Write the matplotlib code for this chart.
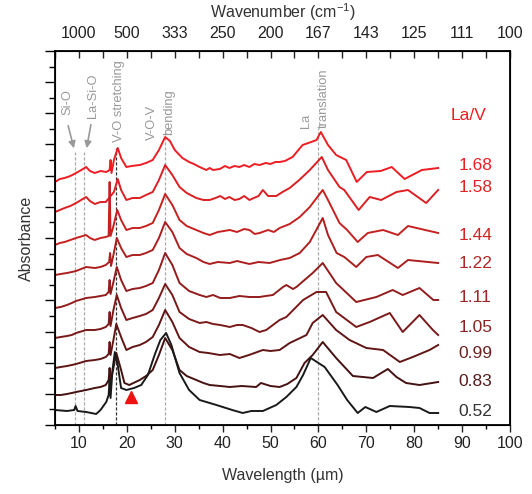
import matplotlib
matplotlib.use("Agg")
import matplotlib.pyplot as plt
import numpy as np

plt.rcParams['font.family'] = ['Liberation Sans', 'DejaVu Sans']
plt.rcParams['mathtext.default'] = 'regular'

# La/V ratio of each spectrum, top to bottom
ratios = ['1.68', '1.58', '1.44', '1.22', '1.11', '1.05', '0.99', '0.83', '0.52']

# stacked absorbance spectra (a.u., already offset), wavelength in um
x1 = [5.0, 6.0, 7.0, 8.2, 9.4, 10.5, 11.5, 12.3, 13.3, 14.5, 15.7, 16.4, 16.6, 16.8, 17.3, 18.1, 18.8, 19.9,
      21.0, 22.7, 24.0, 25.4, 26.7, 28.0, 29.0, 30.0, 31.6, 33.0, 34.0, 35.2, 36.6, 37.3, 38.0, 39.4, 40.5,
      41.4, 42.5, 43.5, 44.5, 45.6, 46.6, 47.7, 49.0, 50.0, 51.0, 51.9, 53.0, 54.6, 56.7, 58.5, 59.6, 60.5,
      62.0, 63.7, 65.8, 68.0, 70.1, 73.0, 75.3, 78.0, 81.6, 85.0]
y1 = [2.43, 2.46, 2.47, 2.49, 2.52, 2.55, 2.58, 2.54, 2.52, 2.54, 2.53, 2.55, 2.65, 2.52, 2.65, 2.77, 2.67, 2.58,
      2.59, 2.60, 2.62, 2.65, 2.75, 2.88, 2.84, 2.75, 2.67, 2.63, 2.61, 2.58, 2.55, 2.57, 2.55, 2.56, 2.59,
      2.57, 2.59, 2.58, 2.60, 2.58, 2.61, 2.60, 2.62, 2.61, 2.63, 2.63, 2.64, 2.68, 2.80, 2.83, 2.85, 2.93,
      2.80, 2.70, 2.65, 2.43, 2.53, 2.54, 2.58, 2.46, 2.55, 2.57]

x2 = [5.0, 6.0, 7.0, 8.2, 9.4, 11.5, 12.3, 13.3, 14.5, 15.6, 17.3, 18.1, 18.8, 19.9, 21.2, 22.7, 24.0, 25.4,
      26.7, 28.0, 29.5, 31.0, 32.5, 34.5, 36.0, 37.3, 38.5, 39.5, 40.5, 41.4, 42.5, 43.5, 44.5, 45.6, 46.5,
      47.5, 48.4, 49.5, 51.2, 52.5, 54.0, 56.0, 58.2, 60.7, 62.0, 64.4, 65.4, 68.4, 70.7, 73.1, 76.3, 78.7,
      82.5, 85.0]
y2 = [2.13, 2.15, 2.17, 2.19, 2.22, 2.28, 2.24, 2.21, 2.23, 2.23, 2.33, 2.46, 2.35, 2.25, 2.27, 2.27, 2.30, 2.33,
      2.45, 2.60, 2.50, 2.38, 2.32, 2.27, 2.25, 2.25, 2.27, 2.29, 2.26, 2.28, 2.25, 2.26, 2.29, 2.25, 2.27,
      2.29, 2.35, 2.29, 2.29, 2.33, 2.37, 2.45, 2.55, 2.68, 2.55, 2.38, 2.35, 2.15, 2.28, 2.25, 2.33, 2.35,
      2.22, 2.35]

x3 = [5.0, 6.0, 7.0, 8.2, 9.4, 11.5, 12.3, 13.3, 14.5, 15.6, 16.2, 16.4, 16.6, 17.1, 18.0, 18.8, 19.9, 21.2,
      22.7, 24.0, 25.4, 26.7, 28.0, 29.5, 31.0, 32.5, 34.5, 36.0, 37.3, 39.0, 41.5, 43.0, 44.5, 45.6, 46.7,
      47.7, 49.5, 50.7, 51.9, 54.0, 56.1, 58.2, 60.9, 62.0, 64.4, 66.0, 68.2, 70.3, 73.5, 76.6, 78.7, 85.0]
y3 = [1.80, 1.82, 1.83, 1.85, 1.87, 1.90, 1.87, 1.85, 1.87, 1.88, 1.89, 2.43, 1.89, 1.97, 2.15, 2.05, 1.95, 1.97,
      1.97, 1.99, 2.02, 2.15, 2.31, 2.20, 2.05, 1.99, 1.95, 1.92, 1.90, 1.93, 1.95, 1.93, 1.96, 1.95, 1.91,
      1.92, 1.95, 1.93, 1.97, 2.01, 2.08, 2.18, 2.35, 2.25, 2.02, 1.95, 1.83, 1.92, 1.95, 1.90, 1.99, 1.92]

x4 = [5.0, 6.2, 7.5, 8.5, 9.4, 11.5, 13.3, 14.5, 15.6, 16.3, 16.5, 16.7, 17.2, 17.9, 18.8, 19.9, 21.2, 22.7,
      24.0, 25.4, 26.7, 28.0, 29.5, 31.0, 32.5, 34.5, 36.0, 37.3, 39.0, 41.5, 43.0, 45.6, 47.5, 49.8, 52.0,
      54.0, 56.1, 58.2, 60.9, 62.0, 63.8, 65.4, 67.9, 70.0, 72.4, 76.6, 78.7, 85.0]
y4 = [1.50, 1.51, 1.52, 1.53, 1.54, 1.58, 1.57, 1.58, 1.60, 1.63, 1.72, 1.59, 1.70, 1.87, 1.77, 1.68, 1.70, 1.70,
      1.72, 1.75, 1.87, 2.03, 1.93, 1.77, 1.71, 1.67, 1.63, 1.61, 1.63, 1.62, 1.64, 1.61, 1.63, 1.62, 1.65,
      1.67, 1.72, 1.83, 2.07, 1.90, 1.72, 1.68, 1.58, 1.68, 1.70, 1.57, 1.65, 1.62]

x5 = [5.0, 6.2, 7.5, 8.5, 9.4, 11.5, 13.3, 14.5, 15.6, 16.2, 16.4, 16.6, 17.2, 17.9, 18.8, 19.9, 21.2, 22.7,
      24.0, 25.4, 26.7, 28.0, 29.5, 31.0, 33.0, 35.2, 36.6, 38.0, 39.5, 41.5, 43.5, 45.6, 47.7, 49.0, 50.5,
      52.6, 53.3, 54.7, 55.4, 58.8, 60.9, 63.7, 67.9, 72.1, 75.5, 77.6, 81.1, 84.0, 85.0]
y5 = [1.17, 1.18, 1.20, 1.22, 1.24, 1.27, 1.28, 1.29, 1.30, 1.33, 1.45, 1.31, 1.43, 1.58, 1.45, 1.34, 1.36, 1.37,
      1.39, 1.42, 1.55, 1.72, 1.60, 1.42, 1.34, 1.30, 1.28, 1.30, 1.27, 1.27, 1.29, 1.28, 1.28, 1.29, 1.30,
      1.38, 1.40, 1.36, 1.38, 1.52, 1.62, 1.42, 1.23, 1.28, 1.35, 1.30, 1.37, 1.25, 1.25]

x6 = [5.0, 6.2, 7.5, 8.5, 9.4, 11.5, 13.3, 14.5, 15.6, 16.2, 16.4, 16.6, 17.2, 17.9, 18.8, 19.9, 21.2, 22.7,
      24.0, 25.4, 26.7, 28.0, 29.5, 31.0, 33.0, 35.2, 36.6, 38.0, 39.5, 41.5, 43.0, 44.2, 46.0, 47.7, 49.1,
      51.9, 53.3, 56.8, 59.6, 61.6, 63.7, 67.9, 70.7, 74.9, 77.6, 81.1, 83.9, 85.0]
y6 = [0.87, 0.88, 0.89, 0.90, 0.92, 0.95, 0.95, 0.96, 0.98, 1.01, 1.13, 0.99, 1.15, 1.30, 1.17, 1.05, 1.07, 1.09,
      1.11, 1.15, 1.27, 1.41, 1.30, 1.13, 1.06, 1.02, 1.03, 1.01, 1.00, 0.98, 1.00, 1.00, 0.97, 0.93, 0.95,
      1.05, 1.08, 1.25, 1.33, 1.33, 1.13, 0.98, 1.03, 1.12, 0.93, 1.10, 0.95, 0.90]

x7 = [5.0, 6.2, 7.5, 8.5, 9.4, 11.5, 13.3, 14.5, 15.6, 16.2, 16.4, 16.6, 17.2, 17.8, 18.8, 19.9, 21.2, 22.7,
      24.0, 25.4, 26.7, 28.0, 29.5, 31.0, 33.0, 35.2, 37.0, 39.4, 41.5, 43.5, 45.5, 48.4, 50.0, 51.9, 54.0,
      57.5, 58.8, 60.9, 63.7, 66.5, 70.0, 73.5, 77.0, 79.7, 83.2, 85.0]
y7 = [0.57, 0.58, 0.59, 0.60, 0.61, 0.64, 0.65, 0.66, 0.68, 0.71, 0.83, 0.70, 0.85, 1.01, 0.88, 0.75, 0.78, 0.80,
      0.83, 0.88, 1.00, 1.15, 1.03, 0.87, 0.78, 0.73, 0.72, 0.70, 0.71, 0.67, 0.70, 0.75, 0.74, 0.75, 0.82,
      0.90, 1.02, 1.10, 0.95, 0.85, 0.77, 0.75, 0.63, 0.68, 0.75, 0.80]

x8 = [5.0, 6.2, 7.5, 8.5, 9.4, 11.5, 13.3, 14.5, 15.6, 16.2, 16.4, 16.6, 17.2, 17.8, 18.8, 19.5, 20.5, 22.7,
      24.0, 25.4, 26.7, 28.0, 29.5, 31.0, 32.5, 34.5, 36.0, 37.3, 39.5, 41.5, 44.0, 47.0, 48.0, 50.0, 51.9,
      53.5, 55.4, 57.1, 58.8, 60.9, 63.7, 67.2, 71.4, 74.5, 76.3, 78.3, 81.1, 85.0]
y8 = [0.30, 0.30, 0.31, 0.32, 0.33, 0.35, 0.37, 0.38, 0.40, 0.45, 0.57, 0.43, 0.57, 0.72, 0.55, 0.42, 0.40, 0.45,
      0.49, 0.55, 0.70, 0.87, 0.75, 0.55, 0.49, 0.45, 0.42, 0.40, 0.39, 0.38, 0.39, 0.38, 0.42, 0.39, 0.38,
      0.41, 0.47, 0.62, 0.70, 0.83, 0.67, 0.49, 0.47, 0.56, 0.48, 0.42, 0.40, 0.43]

x9 = [5.0, 7.5, 9.0, 9.3, 9.7, 11.5, 13.6, 14.5, 15.7, 16.2, 16.4, 16.6, 17.0, 17.5, 18.1, 18.8, 19.9, 21.5,
      23.0, 24.4, 25.8, 27.0, 28.2, 29.3, 30.2, 31.0, 33.0, 35.2, 38.7, 42.0, 44.2, 46.0, 48.4, 51.2, 53.3,
      55.4, 56.8, 58.4, 61.3, 64.0, 66.0, 68.2, 69.8, 72.1, 74.9, 79.0, 81.1, 83.2, 85.0]
y9 = [0.15, 0.14, 0.15, 0.19, 0.14, 0.13, 0.11, 0.15, 0.23, 0.30, 0.45, 0.27, 0.55, 0.73, 0.60, 0.37, 0.35, 0.37,
      0.40, 0.50, 0.70, 0.85, 0.92, 0.80, 0.65, 0.52, 0.35, 0.25, 0.20, 0.15, 0.12, 0.14, 0.14, 0.20, 0.28,
      0.38, 0.50, 0.67, 0.58, 0.40, 0.25, 0.12, 0.18, 0.13, 0.19, 0.18, 0.17, 0.12, 0.12]

xs = [x1, x2, x3, x4, x5, x6, x7, x8, x9]
ys = [y1, y2, y3, y4, y5, y6, y7, y8, y9]
label_y = [2.60, 2.37, 1.90, 1.61, 1.27, 0.97, 0.72, 0.44, 0.14]

# band assignments: position (um) and top of the guide line
band_x = [9.2, 11.0, 17.8, 27.9, 59.9]
band_top = [2.73, 2.73, 2.77, 2.95, 2.97]
band_color = ['#aaaaaa', '#aaaaaa', '#333333', '#aaaaaa', '#aaaaaa']

wl_ticks = [10, 20, 30, 40, 50, 60, 70, 80, 90, 100]
wn_labels = ['%d' % round(10000 / w) for w in wl_ticks]

colors = ['#ee1d23', '#dc1f22', '#c62121', '#ad1f1f', '#931c1c', '#7a1919', '#621515', '#461111', '#1a1a1a']
label_colors = ['#ee1d23', '#e02424', '#d02626', '#b32626', '#a02424', '#8a2222', '#702020', '#581c1c', '#333333']

fig = plt.figure(figsize=(5.32, 4.94), dpi=100)
ax = fig.add_axes([55 / 532, 69 / 494, 455 / 532, 374 / 494])

for bx, bt, bc in zip(band_x, band_top, band_color):
    ax.plot([bx, bx], [0, bt], color=bc, lw=0.9, dashes=(2.5, 1.5), zorder=1)

for x, y, c, r, ly, lc in zip(xs, ys, colors, ratios, label_y, label_colors):
    ax.plot(x, y, color=c, lw=1.4, zorder=2)
    ax.text(89.3, ly, r, color=lc, fontsize=12.5, va='center', ha='left')

ax.text(87.6, 3.10, 'La/V', color='#ee1d23', fontsize=12.5, va='center', ha='left')
ax.plot([20.9], [0.28], marker='^', color='#ee1111', ms=9, ls='none', zorder=3)

grey = '#999999'
fs = 9.3
ax.text(7.6, 3.10, 'Si-O', rotation=90, color=grey, fontsize=fs, ha='center', va='bottom')
ax.text(12.9, 3.07, 'La-Si-O', rotation=90, color=grey, fontsize=fs, ha='center', va='bottom')
ax.text(18.4, 2.83, 'V-O stretching', rotation=90, color=grey, fontsize=fs, ha='center', va='bottom')
ax.text(25.2, 2.85, 'V-O-V', rotation=90, color=grey, fontsize=fs, ha='center', va='bottom')
ax.text(28.9, 2.90, 'bending', rotation=90, color=grey, fontsize=fs, ha='center', va='bottom')
ax.text(57.5, 2.97, 'La', rotation=90, color=grey, fontsize=fs, ha='center', va='bottom')
ax.text(61.1, 2.97, 'translation', rotation=90, color=grey, fontsize=fs, ha='center', va='bottom')
ax.annotate('', xy=(9.1, 2.74), xytext=(7.6, 3.02),
            arrowprops=dict(arrowstyle='-|>', color=grey, lw=1.2, mutation_scale=10))
ax.annotate('', xy=(11.5, 2.74), xytext=(12.6, 3.03),
            arrowprops=dict(arrowstyle='-|>', color=grey, lw=1.2, mutation_scale=10))

ax.set_xlim(5, 100)
ax.set_ylim(0, 3.74)
yt = np.linspace(0, 3.74, 25)
ax.set_yticks(yt[::2])
ax.set_yticks(yt[1::2], minor=True)
ax.set_yticklabels([])
ax.set_xticks(wl_ticks)
ax.set_xticks(np.arange(5, 100, 10), minor=True)
ax.tick_params(axis='x', which='major', direction='out', length=5, width=1, labelsize=11.5, colors='#222222', pad=3)
ax.tick_params(axis='x', which='minor', direction='out', length=3, width=1)
ax.tick_params(axis='y', which='major', direction='out', length=7, width=1)
ax.tick_params(axis='y', which='minor', direction='out', length=4, width=1)
for s in ax.spines.values():
    s.set_linewidth(1.3)
ax.set_xlabel('Wavelength (µm)', fontsize=11.5, color='#333333', labelpad=12)
ax.set_ylabel('Absorbance', fontsize=11.5, color='#333333', labelpad=5)

ax2 = ax.twiny()
ax2.set_xlim(5, 100)
ax2.set_xticks(wl_ticks)
ax2.set_xticklabels(wn_labels)
ax2.set_xticks(np.arange(5, 100, 10), minor=True)
ax2.tick_params(axis='x', which='both', direction='in', length=5, width=1, labelsize=11.5, colors='#222222', pad=7)
fig.text(283 / 532, 1 - 1 / 494, 'Wavenumber (cm$^{-1}$)', fontsize=11.5, color='#333333', ha='center', va='top')

fig.savefig('out.png', dpi=100)
